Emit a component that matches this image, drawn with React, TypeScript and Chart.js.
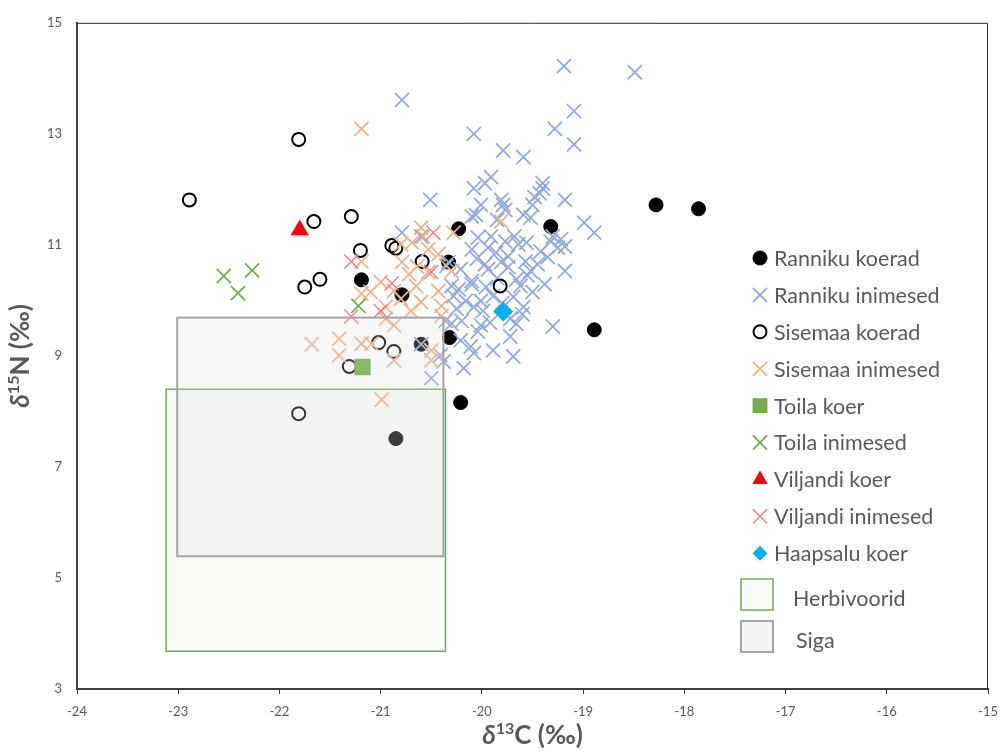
import React, { useEffect, useRef } from "react";
import { Chart, registerables } from "chart.js";

Chart.register(...registerables);

// ---------- axes ----------
const xTickValues = [-24, -23, -22, -21, -20, -19, -18, -17, -16, -15];
const yTickValues = [3, 5, 7, 9, 11, 13, 15];

// ---------- series ----------
const rannikuKoeradX = [-20.23, -21.19, -20.79, -20.33, -19.32, -18.28, -17.86, -18.89, -20.32, -20.6, -20.21, -20.85];
const rannikuKoeradY = [11.29, 10.37, 10.1, 10.69, 11.33, 11.72, 11.65, 9.47, 9.33, 9.21, 8.16, 7.51];

const rannikuInimesedX = [
  -19.19, -18.49, -20.79, -19.09, -19.28, -20.08, -19.09, -19.79, -19.59, -19.91, -19.97, -20.08, -20.01, -19.81, -19.79,
  -19.4, -19.4, -19.43, -19.48, -19.5, -19.18, -20.51, -20.1, -19.59, -19.52, -18.99, -18.89, -20.04, -19.91, -19.94,
  -20.1, -19.86, -19.77, -19.74, -19.64, -19.56, -19.42, -19.32, -19.25, -19.22, -19.18, -19.35, -19.57, -19.74, -19.81,
  -19.94, -20.1, -19.52, -19.18, -19.66, -20.1, -20.23, -19.96, -19.62, -19.38, -19.69, -19.59, -20.01, -19.89, -19.99,
  -20.08, -20.2, -20.01, -20.04, -19.72, -19.66, -19.3, -19.72, -19.89, -20.11, -20.08, -19.69, -20.18, -20.38, -20.5,
  -20.41, -20.3, -20.6, -20.33, -20.79, -20.6, -20.35, -20.21, -20.3, -20.28, -20.16, -20.36, -20.21, -19.97, -20.06,
  -19.77, -19.85, -19.68, -19.3, -19.55, -19.85, -19.45, -20.05, -19.8, -19.5, -19.92, -20.25, -19.6,
];
const rannikuInimesedY = [
  14.22, 14.11, 13.61, 13.41, 13.09, 13.0, 12.81, 12.7, 12.58, 12.22, 12.11, 12.02, 11.72, 11.81, 11.72,
  12.11, 12.02, 11.93, 11.86, 11.72, 11.81, 11.81, 11.51, 11.54, 11.49, 11.4, 11.22, 11.13, 11.15, 10.95,
  10.92, 10.86, 11.06, 10.79, 11.01, 11.04, 10.88, 11.06, 10.95, 11.1, 10.97, 10.78, 10.7, 10.6, 10.69,
  10.56, 10.35, 10.53, 10.53, 10.38, 10.29, 10.2, 10.24, 10.26, 10.29, 10.06, 9.88, 9.99, 10.08, 9.81,
  9.88, 9.63, 9.55, 9.44, 9.67, 9.58, 9.53, 9.35, 9.1, 9.17, 9.05, 8.99, 8.78, 8.9, 8.6,
  9.01, 9.58, 9.21, 10.69, 11.22, 11.15, 10.62, 10.56, 10.26, 10.08, 9.99, 9.63, 9.28, 10.65, 11.54,
  11.63, 11.45, 11.15, 11.15, 10.45, 10.4, 10.65, 10.75, 9.95, 10.15, 9.6, 9.85, 9.75,
];

const sisemaaKoeradX = [-22.89, -21.81, -21.66, -21.29, -21.75, -21.6, -21.2, -20.89, -20.85, -20.59, -19.82, -21.02, -20.87, -21.31, -21.81];
const sisemaaKoeradY = [11.81, 12.9, 11.42, 11.51, 10.24, 10.38, 10.9, 10.99, 10.94, 10.7, 10.26, 9.24, 9.08, 8.81, 7.96];

const sisemaaInimesedX = [
  -21.19, -20.6, -20.28, -19.81, -20.8, -20.69, -20.53, -21.19, -20.79, -20.64, -20.43, -20.3, -20.72, -20.53, -21.0,
  -21.1, -20.87, -20.65, -20.43, -21.19, -20.8, -20.6, -20.4, -20.95, -20.7, -20.95, -20.87, -20.4, -21.41, -21.19,
  -21.09, -21.41, -20.87, -20.5, -20.5, -20.99, -21.68, -20.58,
];
const sisemaaInimesedY = [
  13.09, 11.31, 11.22, 11.42, 11.01, 11.04, 10.92, 10.7, 10.69, 10.61, 10.83, 10.53, 10.47, 10.51, 10.33,
  10.15, 10.17, 10.26, 10.17, 10.12, 10.03, 9.97, 9.9, 9.88, 9.81, 9.67, 9.55, 9.72, 9.31, 9.22,
  9.22, 9.01, 8.92, 9.1, 8.92, 8.21, 9.21, 11.15,
];

const toilaKoerX = [-21.18];
const toilaKoerY = [8.8];
const toilaInimesedX = [-22.55, -22.41, -22.27, -21.22];
const toilaInimesedY = [10.44, 10.13, 10.54, 9.9];
const viljandiKoerX = [-21.8];
const viljandiKoerY = [11.27];
const viljandiInimesedX = [-21.29, -20.48, -20.5, -20.89, -21.0, -21.29];
const viljandiInimesedY = [10.7, 11.22, 10.51, 10.31, 9.81, 9.71];
const haapsaluKoerX = [-19.79];
const haapsaluKoerY = [9.8];

// ---------- reference boxes ----------
const boxLabels = ["Herbivoorid", "Siga"];
const boxXMin = [-23.12, -23.01];
const boxXMax = [-20.36, -20.38];
const boxYMin = [3.68, 5.39];
const boxYMax = [8.4, 9.69];
const boxFill = ["rgba(112,173,71,0.05)", "rgba(220,220,220,0.24)"];
const boxStroke = ["#70AD47", "#A5A5A5"];
const boxStrokeWidth = [1.5, 2];

const pts = (xs: number[], ys: number[]) => xs.map((x, i) => ({ x, y: ys[i] }));

const TEXT_GRAY = "#595959";
const FONT = "Lato, 'Open Sans', sans-serif";

function drawMarker(ctx: CanvasRenderingContext2D, style: string, x: number, y: number, r: number, fill: string, stroke: string, lw: number) {
  ctx.save();
  ctx.beginPath();
  ctx.lineWidth = lw;
  ctx.strokeStyle = stroke;
  ctx.fillStyle = fill;
  if (style === "circle") {
    ctx.arc(x, y, r, 0, Math.PI * 2);
    ctx.fill();
    if (lw > 0) ctx.stroke();
  } else if (style === "crossRot") {
    const d = r * Math.SQRT1_2;
    ctx.moveTo(x - d, y - d);
    ctx.lineTo(x + d, y + d);
    ctx.moveTo(x + d, y - d);
    ctx.lineTo(x - d, y + d);
    ctx.stroke();
  } else if (style === "rect") {
    const s = r * Math.SQRT1_2;
    ctx.rect(x - s, y - s, 2 * s, 2 * s);
    ctx.fill();
  } else if (style === "triangle") {
    const a = (2 * Math.PI) / 3;
    ctx.moveTo(x, y - r);
    ctx.lineTo(x + Math.sin(a) * r, y - Math.cos(a) * r);
    ctx.lineTo(x + Math.sin(2 * a) * r, y - Math.cos(2 * a) * r);
    ctx.closePath();
    ctx.fill();
  } else if (style === "rectRot") {
    ctx.moveTo(x - r, y);
    ctx.lineTo(x, y - r);
    ctx.lineTo(x + r, y);
    ctx.lineTo(x, y + r);
    ctx.closePath();
    ctx.fill();
  }
  ctx.restore();
}

type Part = { t: string; sup?: boolean; italic?: boolean };

function drawRichTitle(ctx: CanvasRenderingContext2D, parts: Part[], cx: number, cy: number, rotate: boolean) {
  const mainSize = 26;
  const supSize = 16;
  const fontFor = (p: Part) => `${p.italic ? "italic " : ""}bold ${p.sup ? supSize : mainSize}px ${FONT}`;
  ctx.save();
  let total = 0;
  const widths = parts.map((p) => {
    ctx.font = fontFor(p);
    const w = ctx.measureText(p.t).width;
    total += w;
    return w;
  });
  ctx.translate(cx, cy);
  if (rotate) ctx.rotate(-Math.PI / 2);
  ctx.fillStyle = TEXT_GRAY;
  ctx.textBaseline = "alphabetic";
  ctx.textAlign = "left";
  let x = -total / 2;
  parts.forEach((p, i) => {
    ctx.font = fontFor(p);
    ctx.fillText(p.t, x, p.sup ? -1 : 9);
    x += widths[i];
  });
  ctx.restore();
}

const boxesPlugin = {
  id: "refBoxes",
  afterDatasetsDraw(chart: any) {
    const { ctx, scales } = chart;
    const xs = scales.x;
    const ys = scales.y;
    boxLabels.forEach((_, i) => {
      const l = xs.getPixelForValue(boxXMin[i]);
      const r = xs.getPixelForValue(boxXMax[i]);
      const t = ys.getPixelForValue(boxYMax[i]);
      const b = ys.getPixelForValue(boxYMin[i]);
      ctx.save();
      ctx.fillStyle = boxFill[i];
      ctx.fillRect(l, t, r - l, b - t);
      ctx.strokeStyle = boxStroke[i];
      ctx.lineWidth = boxStrokeWidth[i];
      ctx.strokeRect(l, t, r - l, b - t);
      ctx.restore();
    });
  },
};

const decorPlugin = {
  id: "decor",
  afterDraw(chart: any) {
    const { ctx, chartArea } = chart;
    // frame (top/right)
    ctx.save();
    ctx.strokeStyle = "#262626";
    ctx.lineWidth = 1;
    ctx.beginPath();
    ctx.moveTo(chartArea.left, chartArea.top + 0.5);
    ctx.lineTo(chartArea.right - 0.5, chartArea.top + 0.5);
    ctx.lineTo(chartArea.right - 0.5, chartArea.bottom);
    ctx.stroke();
    ctx.restore();

    // axis titles
    drawRichTitle(ctx, [{ t: "δ", italic: true }, { t: "13", sup: true }, { t: "C (‰)" }], (chartArea.left + chartArea.right) / 2, 735, false);
    drawRichTitle(ctx, [{ t: "δ", italic: true }, { t: "15", sup: true }, { t: "N (‰)" }], 20, (chartArea.top + chartArea.bottom) / 2, true);

    // legend
    const markX = 760;
    const textX = 774;
    const y0 = 258;
    const dy = 36.9;
    ctx.save();
    ctx.font = `21.5px ${FONT}`;
    ctx.fillStyle = TEXT_GRAY;
    ctx.textBaseline = "middle";
    chart.data.datasets.forEach((ds: any, i: number) => {
      const y = y0 + i * dy;
      drawMarker(ctx, ds.pointStyle, markX, y, ds.legendRadius, ds.pointBackgroundColor, ds.pointBorderColor, ds.pointBorderWidth);
      ctx.fillStyle = TEXT_GRAY;
      ctx.fillText(ds.label, textX, y + 1);
    });
    const boxTop = [579, 621];
    const textOff = [793, 796];
    boxLabels.forEach((lab, i) => {
      ctx.save();
      ctx.fillStyle = i === 0 ? "#F7FAF4" : "#F4F4F4";
      ctx.fillRect(741, boxTop[i], 32, 31);
      ctx.strokeStyle = boxStroke[i];
      ctx.lineWidth = boxStrokeWidth[i];
      ctx.strokeRect(741, boxTop[i], 32, 31);
      ctx.restore();
      ctx.fillStyle = TEXT_GRAY;
      ctx.fillText(lab, textOff[i], boxTop[i] + 20);
    });
    ctx.restore();
  },
};

function makeDs(label: string, xs: number[], ys: number[], style: string, r: number, fill: string, stroke: string, lw: number, order: number, legendRadius: number) {
  return {
    label,
    data: pts(xs, ys),
    pointStyle: style,
    pointRadius: r,
    pointHoverRadius: r,
    pointBackgroundColor: fill,
    pointBorderColor: stroke,
    pointBorderWidth: lw,
    backgroundColor: fill,
    borderColor: stroke,
    showLine: false,
    order,
    legendRadius,
  };
}

export default function App() {
  const ref = useRef<HTMLCanvasElement | null>(null);

  useEffect(() => {
    document.body.style.margin = "0";
    document.body.style.overflow = "hidden";
    const canvas = ref.current;
    if (!canvas) return;
    const datasets = [
      makeDs("Ranniku koerad", rannikuKoeradX, rannikuKoeradY, "circle", 7, "#000000", "#000000", 1, 9, 7),
      makeDs("Ranniku inimesed", rannikuInimesedX, rannikuInimesedY, "crossRot", 10, "rgba(0,0,0,0)", "#8FAADC", 1.75, 8, 10),
      makeDs("Sisemaa koerad", sisemaaKoeradX, sisemaaKoeradY, "circle", 6.5, "rgba(0,0,0,0)", "#000000", 2, 7, 6.5),
      makeDs("Sisemaa inimesed", sisemaaInimesedX, sisemaaInimesedY, "crossRot", 10, "rgba(0,0,0,0)", "#F4B183", 1.75, 6, 10),
      makeDs("Toila koer", toilaKoerX, toilaKoerY, "rect", 11.5, "#70AD47", "#70AD47", 0, 5, 10.5),
      makeDs("Toila inimesed", toilaInimesedX, toilaInimesedY, "crossRot", 10, "rgba(0,0,0,0)", "#70AD47", 1.75, 4, 10),
      makeDs("Viljandi koer", viljandiKoerX, viljandiKoerY, "triangle", 10.5, "#FF0000", "#FF0000", 0, 3, 9),
      makeDs("Viljandi inimesed", viljandiInimesedX, viljandiInimesedY, "crossRot", 10, "rgba(0,0,0,0)", "#FF6F6F", 1.25, 2, 10),
      makeDs("Haapsalu koer", haapsaluKoerX, haapsaluKoerY, "rectRot", 10, "#00B0F0", "#00B0F0", 0, 1, 7.5),
    ];
    const chart = new Chart(canvas, {
      type: "scatter",
      data: { datasets: datasets as any },
      plugins: [boxesPlugin, decorPlugin],
      options: {
        animation: false,
        responsive: false,
        maintainAspectRatio: false,
        layout: { padding: { left: 0, top: 16, right: 14, bottom: 0 } },
        plugins: {
          legend: { display: false },
          tooltip: { enabled: false },
          title: { display: false },
        },
        scales: {
          x: {
            type: "linear",
            min: -24,
            max: -15,
            afterBuildTicks: (s: any) => {
              s.ticks = xTickValues.map((v) => ({ value: v }));
            },
            afterFit: (s: any) => {
              s.height = 65;
            },
            ticks: {
              color: TEXT_GRAY,
              font: { family: FONT, size: 13 },
              padding: 10,
              maxRotation: 0,
              callback: (v: any) => String(v),
            },
            grid: { display: true, drawOnChartArea: false, drawTicks: true, tickLength: 5, color: "#404040", lineWidth: 1 },
            border: { display: true, color: "#404040", width: 2 },
          },
          y: {
            type: "linear",
            min: 3,
            max: 15,
            afterBuildTicks: (s: any) => {
              s.ticks = yTickValues.map((v) => ({ value: v }));
            },
            afterFit: (s: any) => {
              s.width = 77;
            },
            ticks: {
              color: TEXT_GRAY,
              font: { family: FONT, size: 13 },
              padding: 15,
              callback: (v: any) => String(v),
            },
            grid: { display: true, drawOnChartArea: false, drawTicks: false, color: "rgba(0,0,0,0)" },
            border: { display: true, color: "#404040", width: 2 },
          },
        },
      },
    });
    return () => chart.destroy();
  }, []);

  return (
    <div style={{ width: 1008, height: 754, position: "relative", background: "#fff" }}>
      <canvas ref={ref} width={1008} height={754} style={{ display: "block", width: 1008, height: 754 }} />
    </div>
  );
}
